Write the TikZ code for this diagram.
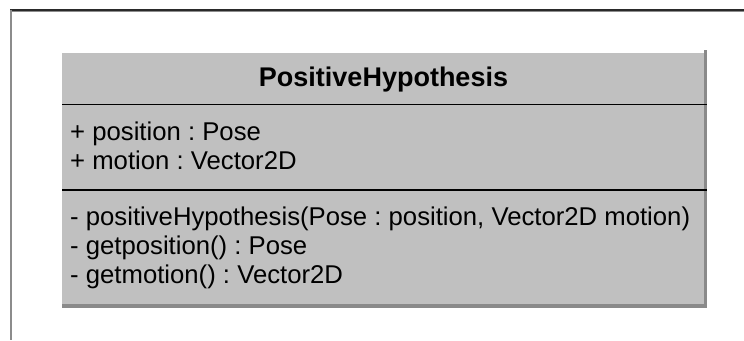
\documentclass[tikz,border=0pt]{standalone}
\usepackage{fontspec}
\setmainfont{Liberation Sans}
\frenchspacing
\definecolor{classfill}{HTML}{C0C0C0}
\definecolor{classshadow}{HTML}{8A8A8A}
\definecolor{framedark}{HTML}{2A2A2A}
\definecolor{framegray}{HTML}{8C8C8C}
\tikzset{
  member/.style={anchor=base west, inner sep=0pt, font=\fontsize{25.7}{29}\selectfont},
  classname/.style={anchor=base, inner sep=0pt, font=\fontsize{27}{32}\selectfont\bfseries},
  divider/.style={line width=1.6pt, black},
}
\begin{document}
\begin{tikzpicture}[x=1pt,y=-1pt]
\useasboundingbox (0,0) rectangle (744,340);
% outer frame (top and left edges)
\draw[framegray, line width=1pt] (10,11.4) -- (744,11.4);
\draw[framedark, line width=1.5pt] (10,9.9) -- (744,9.9);
\draw[framegray, line width=2pt] (11,9.5) -- (11,340);
% class box: shadow bars on the right and bottom, then the body
\fill[classshadow] (704,50) rectangle (707,308);
\fill[classshadow] (62,304) rectangle (707,308);
\node[fill=classfill, inner sep=0pt, minimum width=642pt, minimum height=251pt, anchor=north west] (cls) at (62,53) {};
\coordinate (d1l) at (62,104.5);
\coordinate (d1r) at (707,104.5);
\coordinate (d2l) at (62,190);
\coordinate (d2r) at (707,190);
\draw[divider] (d1l) -- (d1r);
\draw[divider] (d2l) -- (d2r);
% name compartment
\node[classname] (name) at (383.5,86.7) {PositiveHypothesis};
% attributes
\node[member] (a1) at (70,140) {+ position : Pose};
\node[member] (a2) at (70,169) {+ motion : Vector2D};
% operations
\node[member] (m1) at (70,225) {- positiveHypothesis(Pose : position, Vector2D motion)};
\node[member] (m2) at (70,254) {- getposition() : Pose};
\node[member] (m3) at (70,283) {- getmotion() : Vector2D};
\end{tikzpicture}
\end{document}
